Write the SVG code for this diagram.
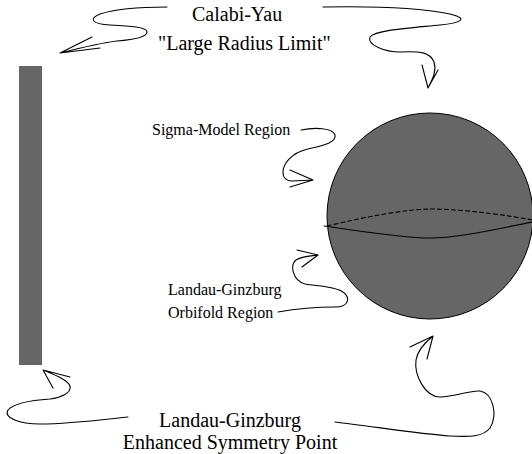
<svg xmlns="http://www.w3.org/2000/svg" width="532" height="454" viewBox="0 0 532 454">
<style>
.t{font-family:"Liberation Serif","Times New Roman",serif;fill:#000}
.big{font-size:20px}
.small{font-size:16px}
.c{fill:none;stroke:#000;stroke-width:1.1;stroke-linecap:round;stroke-linejoin:round}
</style>
<rect width="532" height="454" fill="#fff"/>
<g id="bar"><rect x="19" y="66" width="23" height="299" fill="#666"/></g>
<g id="sphere">
<circle cx="430" cy="216" r="103" fill="#666" stroke="#000" stroke-width="1"/>
<path d="M324,226 C360,231 400,238 430,238 C460,238 500,228 533,222" class="c"/>
<path d="M327,226 C370,216 405,209 435,209 C470,210 505,215 533,220" class="c" stroke-dasharray="4,3"/>
</g>
<g id="label-cy">
<text class="t big" x="192" y="21">Calabi-Yau</text>
<text class="t big" x="158" y="50">"Large Radius Limit"</text>
</g>
<g id="label-sigma"><text class="t small" x="152" y="135">Sigma-Model Region</text></g>
<g id="label-lgo">
<text class="t small" x="168" y="295">Landau-Ginzburg</text>
<text class="t small" x="168" y="318">Orbifold Region</text>
</g>
<g id="label-lg">
<text class="t big" x="230" y="427" text-anchor="middle">Landau-Ginzburg</text>
<text class="t big" x="230" y="449" text-anchor="middle">Enhanced Symmetry Point</text>
</g>
<g id="connectors">
<path class="c" d="M167,7 C140,7 115,9 100,14 C88,19 92,24 110,25 C130,26 147,27 147,32 C147,38 130,40 117,41 C100,43 80,48 60,53 M92,37 L60,53 L100,48"/>
<path class="c" d="M323,7 C370,6 420,8 450,14 C470,19 460,23 440,25 C410,28 375,30 370,37 C367,45 385,52 400,52 C420,51 430,52 434,62 C437,72 432,80 428,88 M422,65 L428,88 L438,70"/>
<path class="c" d="M301,130 C315,127 333,128 335,135 C337,143 320,146 308,149 C290,153 283,165 283,172 C283,178 287,181 292,181 L313,180 M290,170 L313,180 L290,187"/>
<path class="c" d="M278,312 C295,309 315,307 335,307 C350,307 350,297 343,292 C335,286 315,286 305,284 C292,280 290,265 296,260 C302,256 312,256 318,255 M297,250 L318,255 L302,267"/>
<path class="c" d="M128,417 C100,420 70,424 40,424 C20,424 3,418 8,410 C15,402 35,400 50,399 C60,398 72,393 70,386 C68,380 55,375 43,370 M70,377 L43,370 L53,388"/>
<path class="c" d="M335,422 C370,426 420,434 450,436 C470,437 483,437 490,428 C498,415 493,393 480,391 C470,390 455,397 440,397 C425,397 414,375 416,360 C418,348 428,340 433,336 M410,347 L433,336 L427,359"/>
</g>
</svg>
